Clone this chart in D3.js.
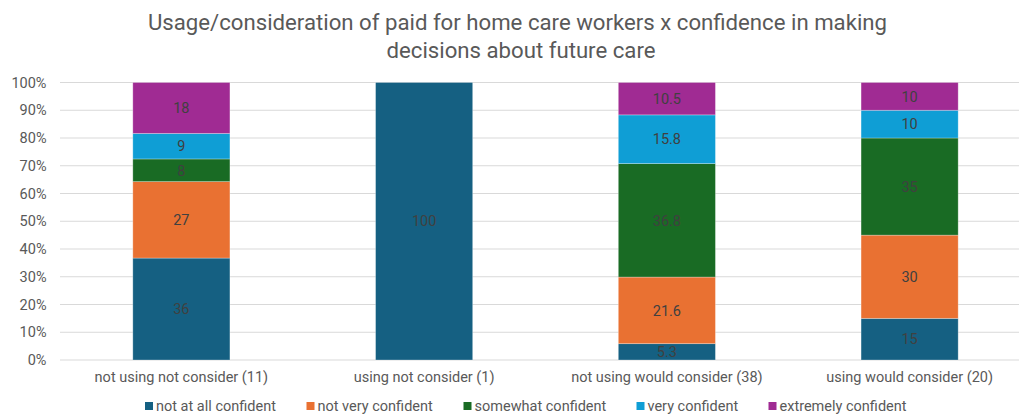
<!DOCTYPE html>
<html><head><meta charset="utf-8">
<script src="https://cdn.jsdelivr.net/npm/d3@7"></script>
<style>body{margin:0;background:#fff}svg{display:block;font-family:Roboto,"Open Sans",sans-serif}</style>
</head><body><svg id="c" width="1019" height="416"></svg>
<script>
const categories = ["not using not consider (11)", "using not consider (1)", "not using would consider (38)", "using would consider (20)"];
const seriesNames = ["not at all confident", "not very confident", "somewhat confident", "very confident", "extremely confident"];
const notAtAll   = [36, 100, 5.3, 15];
const notVery    = [27, 0, 21.6, 30];
const somewhat   = [8, 0, 36.8, 35];
const very       = [9, 0, 15.8, 10];
const extremely  = [18, 0, 10.5, 10];
const yTicks = [0, 0.1, 0.2, 0.3, 0.4, 0.5, 0.6, 0.7, 0.8, 0.9, 1];
const colors = ["#156082", "#E97132", "#196B24", "#0F9ED5", "#A02B93"];

const series = [notAtAll, notVery, somewhat, very, extremely];
const rows = categories.map((c, i) => {
  const r = {cat: c};
  seriesNames.forEach((s, k) => r[s] = series[k][i]);
  return r;
});

const svg = d3.select("#c");
const plotL = 60, plotR = 1031, plotT = 82.5, plotB = 360;

const x = d3.scaleBand().domain(categories).range([plotL, plotR]).paddingInner(0.6).paddingOuter(0.3);
const y = d3.scaleLinear().domain([0, 1]).range([plotB, plotT]);

// gridlines
svg.append("g").selectAll("line").data(yTicks).join("line")
  .attr("x1", plotL).attr("x2", plotR)
  .attr("y1", d => y(d)).attr("y2", d => y(d))
  .attr("stroke", "#d9d9d9").attr("stroke-width", 1);

// y axis labels
const yAxis = d3.axisLeft(y).tickValues(yTicks).tickFormat(d3.format(".0%")).tickSize(0).tickPadding(0);
const ya = svg.append("g").attr("transform", `translate(${46.5},0)`).call(yAxis);
ya.select(".domain").remove();
ya.selectAll("text").attr("font-size", 14.5).attr("fill", "#595959").attr("font-family", "Roboto, sans-serif");

const stack = d3.stack().keys(seriesNames).offset(d3.stackOffsetExpand);
const stacked = stack(rows);

const g = svg.append("g");
stacked.forEach((layer, k) => {
  g.append("g").attr("fill", colors[k]).selectAll("rect").data(layer).join("rect")
    .attr("x", d => x(d.data.cat))
    .attr("width", x.bandwidth())
    .attr("y", d => y(d[1]))
    .attr("height", d => y(d[0]) - y(d[1]))
    .attr("stroke", "#ffffff").attr("stroke-opacity", 0.35).attr("stroke-width", 0.8);
});
stacked.forEach((layer, k) => {
  g.append("g").selectAll("text").data(layer.filter(d => d.data[layer.key] > 0)).join("text")
    .attr("x", d => x(d.data.cat) + x.bandwidth() / 2)
    .attr("y", d => (y(d[0]) + y(d[1])) / 2)
    .attr("dy", "0.36em")
    .attr("text-anchor", "middle")
    .attr("font-size", 14.5).attr("fill", "#404040")
    .text(d => d.data[layer.key]);
});

// x axis labels
const xAxis = d3.axisBottom(x).tickSize(0).tickPadding(0);
const xa = svg.append("g").attr("transform", `translate(0,${plotB + 12})`).call(xAxis);
xa.select(".domain").remove();
xa.selectAll("text").attr("font-size", 14.5).attr("fill", "#595959").attr("font-family", "Roboto, sans-serif");

// title
const title = svg.append("text").attr("text-anchor", "middle").attr("font-size", 22.2).attr("fill", "#595959");
title.append("tspan").attr("x", 517.5).attr("y", 30).text("Usage/consideration of paid for home care workers x confidence in making");
title.append("tspan").attr("x", 521).attr("y", 58).text("decisions about future care");

// legend
const legendX = [145, 306.5, 463.5, 636.5, 768.5];
const lg = svg.append("g").selectAll("g").data(seriesNames).join("g")
  .attr("transform", (d, i) => `translate(${legendX[i]},${402})`);
lg.append("rect").attr("width", 8).attr("height", 8).attr("fill", (d, i) => colors[i]);
lg.append("text").attr("x", 11).attr("y", 4).attr("dy", "0.36em")
  .attr("font-size", 14.5).attr("fill", "#595959").text(d => d);
</script></body></html>
